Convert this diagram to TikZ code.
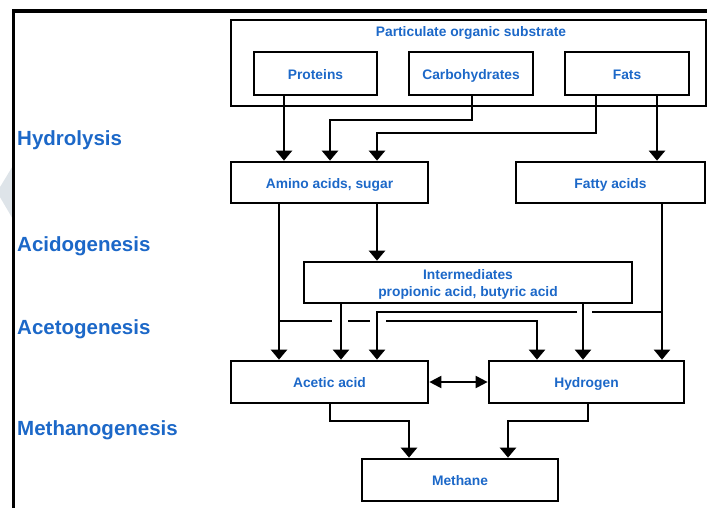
\documentclass[tikz,border=0pt]{standalone}
\usepackage{fontspec}
\setmainfont{Liberation Sans}
\usetikzlibrary{arrows.meta}
\definecolor{txtblue}{RGB}{28,104,200}
\definecolor{wmgrey}{RGB}{222,228,233}
\begin{document}
\begin{tikzpicture}[x=1pt,y=-1pt,
  box/.style={draw, line width=2.7pt, inner sep=0pt, font=\fontsize{13.8}{16}\selectfont\bfseries, text=txtblue, align=center},
  one/.style={text height=12.5pt, text depth=1pt},
  txt/.style={inner sep=0pt, font=\fontsize{13.8}{16.5}\selectfont\bfseries, text=txtblue, align=center},
  stage/.style={anchor=base west, inner sep=0pt, font=\fontsize{20.5}{23}\selectfont\bfseries, text=txtblue},
  arr/.style={line width=2.6pt, -{Triangle[width=16pt,length=10pt]}},
  thinarr/.style={line width=2.2pt, -{Triangle[width=16pt,length=10pt]}},
  ln/.style={line width=2.2pt},
  dbl/.style={line width=2pt, {Triangle[width=12pt,length=12pt]}-{Triangle[width=12pt,length=12pt]}}
]
\useasboundingbox (0,0) rectangle (707,507);
% watermark
\fill[wmgrey] (14,164) -- (-3,192) -- (14,221) -- cycle;
% frame
\draw[line width=3.2pt] (13.5,510) -- (13.5,11) -- (710,11);

% stage labels
\node[stage] (hyd) at (17,145.5) {Hydrolysis};
\node[stage] (aci) at (17,251.5) {Acidogenesis};
\node[stage] (ace) at (17,334) {Acetogenesis};
\node[stage] (met) at (17,435.5) {Methanogenesis};

% boxes
\node[draw, line width=2.2pt, minimum width=475pt, minimum height=86pt] (part) at (468.5,63) {};
\node[txt, anchor=base] (parttitle) at (471,36.5) {Particulate organic substrate};
\node[box, one, minimum width=123pt, minimum height=43pt] (prot) at (315.5,73.5) {Proteins};
\node[box, one, minimum width=124pt, minimum height=43pt] (carb) at (471,73.5) {Carbohydrates};
\node[box, one, minimum width=124pt, minimum height=43pt] (fats) at (627,73.5) {Fats};
\node[box, one, minimum width=197pt, minimum height=41pt] (amino) at (329.5,182.5) {Amino acids, sugar};
\node[box, one, minimum width=189pt, minimum height=41pt] (fatty) at (610.5,182.5) {Fatty acids};
\node[box, minimum width=328pt, minimum height=41pt] (inter) at (468,282.5) {};
\node[txt] (intertxt) at (468,284.5) {Intermediates\\propionic acid, butyric acid};
\node[box, one, minimum width=197pt, minimum height=42pt] (acetic) at (329.5,382) {Acetic acid};
\node[box, one, minimum width=195pt, minimum height=42pt] (hydro) at (586.5,382) {Hydrogen};
\node[box, one, minimum width=196pt, minimum height=42pt] (meth) at (460,480) {Methane};

% lane coordinates
\coordinate (xP) at (284,0);
\coordinate (b1) at (472,120);
\coordinate (b2) at (330,120);
\coordinate (b3) at (596,133);
\coordinate (b4) at (377,133);
\coordinate (b5) at (657,0);
\coordinate (b6) at (279,321);
\coordinate (b7) at (537,321);
\coordinate (g1) at (332,321);
\coordinate (g2) at (348,321);
\coordinate (g3) at (370,321);
\coordinate (g4) at (386,321);
\coordinate (b8) at (341,0);
\coordinate (b9) at (583,0);
\coordinate (b10) at (662,312);
\coordinate (g5) at (592,312);
\coordinate (g6) at (577,312);
\coordinate (b11) at (377,312);
\coordinate (b12) at (330,421);
\coordinate (b13) at (409,421);
\coordinate (b14) at (588,421);
\coordinate (b15) at (508,421);

% hydrolysis
\draw[arr] (prot.south -| xP) -- (amino.north -| xP);
\draw[arr] (carb.south -| b1) -- (b1) -- (b2) -- (amino.north -| b2);
\draw[arr] (fats.south -| b3) -- (b3) -- (b4) -- (amino.north -| b4);
\draw[arr] (fats.south -| b5) -- (fatty.north -| b5);
% acidogenesis
\draw[arr] (amino.south -| b4) -- (inter.north -| b4);
\draw[arr] (amino.south -| b6) -- (acetic.north -| b6);
% acetogenesis
\draw[ln] (b6) -- (g1);
\draw[ln] (g2) -- (g3);
\draw[thinarr] (g4) -- (b7) -- (hydro.north -| b7);
\draw[thinarr] (inter.south -| b8) -- (acetic.north -| b8);
\draw[thinarr] (inter.south -| b9) -- (hydro.north -| b9);
\draw[ln] (b10) -- (g5);
\draw[thinarr] (g6) -- (b11) -- (acetic.north -| b11);
\draw[thinarr] (fatty.south -| b10) -- (hydro.north -| b10);
\draw[dbl] (acetic.east) -- (hydro.west);
% methanogenesis
\draw[arr] (acetic.south -| b12) -- (b12) -- (b13) -- (meth.north -| b13);
\draw[arr] (hydro.south -| b14) -- (b14) -- (b15) -- (meth.north -| b15);
\end{tikzpicture}
\end{document}
